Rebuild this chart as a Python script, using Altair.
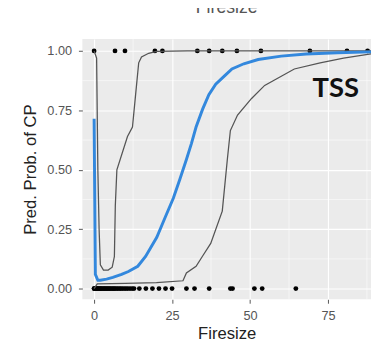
import altair as alt
import pandas as pd

# ---- data ----
top_x = [0, 6.7, 9.9, 19.5, 21.9, 33.1, 36.9, 41.1, 45.8, 53.5, 69.2, 81.1, 87.7]
bottom_x = [0, 0, 0.2, 0.5, 0.8, 1.0, 1.2, 1.5, 1.8, 2.0, 2.3, 2.6, 3.0, 3.3, 3.6,
            4.0, 4.3, 4.7, 5.0, 5.4, 5.8, 6.2, 6.6, 7.0, 7.5, 8.0, 8.5, 9.0, 9.6,
            10.2, 10.8, 11.5, 12.2, 12.8, 14.5, 16.6, 18.7, 20.8, 22.9, 25.0,
            29.6, 32.2, 36.9, 43.7, 44.4, 51.4, 53.9, 64.7]

fit_x = [0, 0.4, 1.2, 2, 4, 6, 8.8, 11, 14, 16.5, 20.1, 22.8, 25.4, 27.5, 29.6, 31.2,
         32.7, 34.8, 36.8, 39, 42, 44.2, 48, 52.6, 60, 68, 78, 88.8]
fit_y = [0.715, 0.06, 0.035, 0.035, 0.04, 0.047, 0.06, 0.072, 0.094, 0.135, 0.216, 0.30,
         0.38, 0.46, 0.543, 0.61, 0.68, 0.755, 0.816, 0.86, 0.897, 0.924, 0.946, 0.964,
         0.978, 0.987, 0.992, 0.996]

upper_x = [0, 0.8, 1.2, 1.6, 2.0, 3.0, 4.5, 5.8, 6.5, 6.8, 7.3, 10.7, 12.3, 13.3,
           14.3, 15.2, 17.5, 20, 30, 50, 70, 88.8]
upper_y = [1.0, 0.97, 0.5, 0.25, 0.1, 0.078, 0.078, 0.09, 0.135, 0.35, 0.5, 0.64, 0.68,
           0.815, 0.95, 0.975, 0.99, 0.998, 1.0, 1.0, 1.0, 1.0]

lower_x = [0, 1, 10, 20, 28.5, 29.6, 32.7, 34.7, 37.4, 41.1, 42.7, 43.7, 46, 50.5,
           54.7, 64.2, 72.5, 80, 88.8]
lower_y = [0.0, 0.02, 0.022, 0.025, 0.033, 0.066, 0.094, 0.135, 0.19, 0.326, 0.54,
           0.665, 0.73, 0.80, 0.855, 0.924, 0.95, 0.97, 0.988]

x_ticks = [0, 25, 50, 75]
y_ticks = [0, 0.25, 0.5, 0.75, 1.0]
x_minor = [12.5, 37.5, 62.5, 87.5]
y_minor = [0.125, 0.375, 0.625, 0.875]

label_text = ["TSS"]
label_x = [77.5]
label_y = [0.808]

# ---- tables ----
points = pd.DataFrame({"Firesize": top_x + bottom_x,
                       "prob": [1.0] * len(top_x) + [0.0] * len(bottom_x)})
fit = pd.DataFrame({"Firesize": fit_x, "prob": fit_y})
ci = pd.DataFrame({"Firesize": upper_x + lower_x,
                   "prob": upper_y + lower_y,
                   "band": ["upper"] * len(upper_x) + ["lower"] * len(lower_x)})
ci = ci.reset_index().rename(columns={"index": "idx"})
xminor_df = pd.DataFrame({"Firesize": x_minor})
yminor_df = pd.DataFrame({"prob": y_minor})
lab = pd.DataFrame({"Firesize": label_x, "prob": label_y, "t": label_text})

FONT = "Liberation Sans"
xscale = alt.Scale(domain=[-3.77, 88.8], nice=False, zero=False)
yscale = alt.Scale(domain=[-0.045, 1.05], nice=False, zero=False)

xaxis = alt.Axis(title="Firesize", values=x_ticks, format="d", grid=True,
                 gridColor="white", gridWidth=1.1, domain=False,
                 tickSize=4, tickColor="#555555", tickWidth=1,
                 labelFont=FONT, labelFontSize=13, labelColor="#555555", labelPadding=7,
                 titleFont=FONT, titleFontSize=17, titleFontWeight="normal",
                 titleColor="#222222", titleBaseline="alphabetic", titleY=40)
yaxis = alt.Axis(title="Pred. Prob. of CP", values=y_ticks, format=".2f", grid=True,
                 gridColor="white", gridWidth=1.1, domain=False,
                 tickSize=4, tickColor="#555555", tickWidth=1,
                 labelFont=FONT, labelFontSize=13, labelColor="#555555", labelPadding=7,
                 titleFont=FONT, titleFontSize=17, titleFontWeight="normal",
                 titleColor="#222222", titleBaseline="alphabetic", titleX=-48)

X = lambda f="Firesize": alt.X(f"{f}:Q", scale=xscale, axis=xaxis)
Y = lambda f="prob": alt.Y(f"{f}:Q", scale=yscale, axis=yaxis)

vminor = alt.Chart(xminor_df).mark_rule(color="white", strokeWidth=0.55).encode(x=X())
hminor = alt.Chart(yminor_df).mark_rule(color="white", strokeWidth=0.55).encode(y=Y())

pts = alt.Chart(points).mark_circle(color="black", size=24, opacity=1).encode(x=X(), y=Y())

ci_lines = alt.Chart(ci).mark_line(color="#555555", strokeWidth=1.3, clip=True).encode(
    x=X(), y=Y(), detail="band:N", order=alt.Order("idx:Q"))

fit_line = alt.Chart(fit).mark_line(color="#3388dd", strokeWidth=3, clip=True).encode(
    x=X(), y=Y())

txt = alt.Chart(lab).mark_text(font="Lato", fontWeight="bold", fontSize=28,
                               color="#111111", align="center",
                               baseline="alphabetic").encode(x=X(), y=Y(), text="t:N")

chart = alt.layer(vminor, hminor, pts, ci_lines, fit_line, txt).properties(
    width=295, height=266,
    title=alt.TitleParams("Firesize", font=FONT, fontSize=18, fontWeight="normal",
                          color="#555555", anchor="middle", offset=8,
                          baseline="alphabetic"),
    autosize=alt.AutoSizeParams(type="none"),
    padding={"left": 76, "top": 28, "right": 0, "bottom": 44},
).configure(background="white").configure_view(fill="#EBEBEB", stroke=None)

chart.save("out.html", embed_options={"renderer": "svg", "actions": False})
